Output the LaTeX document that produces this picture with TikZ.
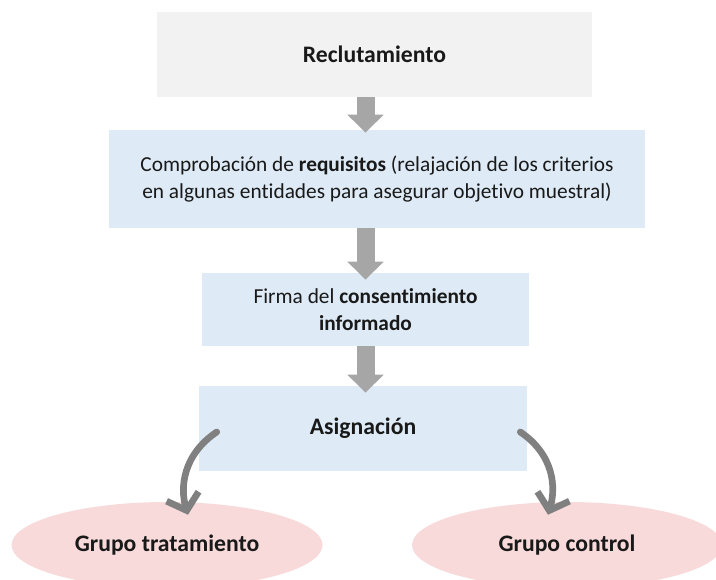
\documentclass[tikz,border=0pt]{standalone}
\usepackage{fontspec}
\setmainfont{Carlito}[Ligatures=NoCommon]
\usetikzlibrary{arrows.meta,shapes.geometric}

\begin{document}
\begin{tikzpicture}[x=0.75pt,y=-0.75pt,
  box/.style={inner sep=0pt,align=center,text=ctext,font=\fontsize{16pt}{20.25pt}\selectfont},
  title/.style={font=\fontsize{17.75pt}{21pt}\selectfont\bfseries},
  grp/.style={ellipse,fill=cfpink,inner sep=0pt,text=ctext,title},
  blockarr/.style={draw=carr,line width=13.5pt,-{Triangle[width=26.25pt,length=13.5pt]}},
  curvarr/.style={draw=ccurve,line width=5pt,line cap=round,-{Straight Barb[length=11pt,width=25pt]}}]
\definecolor{cfgray}{rgb}{0.949,0.949,0.949}
\definecolor{cfblue}{rgb}{0.871,0.922,0.965}
\definecolor{cfpink}{rgb}{0.973,0.855,0.855}
\definecolor{carr}{rgb}{0.651,0.651,0.651}
\definecolor{ccurve}{rgb}{0.502,0.502,0.502}
\definecolor{ctext}{rgb}{0.1,0.1,0.1}
\useasboundingbox (0,0) rectangle (716,579);
%
\node[box,title,fill=cfgray,minimum width=326.25pt,minimum height=63.75pt] (recl) at (374.5,54.5) {Reclutamiento};
\node[box,fill=cfblue,minimum width=402pt,minimum height=73.5pt] (req) at (377,179) {Comprobación de \textbf{requisitos} (relajación de los criterios\\en algunas entidades para asegurar objetivo muestral)};
\node[box,fill=cfblue,minimum width=245.25pt,minimum height=54.75pt] (firma) at (365.5,309.5) {Firma del \textbf{consentimiento}\\\textbf{informado}};
\node[box,title,fill=cfblue,minimum width=246pt,minimum height=63.75pt] (asig) at (363,428.5) {Asignación};
\node[grp,minimum width=233.25pt,minimum height=64.5pt] (trat) at (167,545) {Grupo tratamiento};
\node[grp,minimum width=232.5pt,minimum height=64.5pt] (ctrl) at (567,545) {Grupo control};
%
\draw[blockarr,shorten >=-2.25pt] (recl.south -| firma) -- (req.north -| firma);
\draw[blockarr,shorten >=-5.25pt] (req.south -| firma) -- (firma.north);
\draw[blockarr,shorten >=-5.25pt] (firma.south) -- (asig.north -| firma);
\draw[curvarr] ([xshift=13.5pt,yshift=-2.6pt]asig.west) .. controls +(-34,23) and +(-8,-27) .. ([xshift=15.75pt,yshift=-9.75pt]trat.north);
\draw[curvarr] ([xshift=-5.25pt,yshift=-2.6pt]asig.east) .. controls +(34,23) and +(8,-27) .. ([xshift=-14.25pt,yshift=-9.75pt]ctrl.north);
%
\end{tikzpicture}
\end{document}
